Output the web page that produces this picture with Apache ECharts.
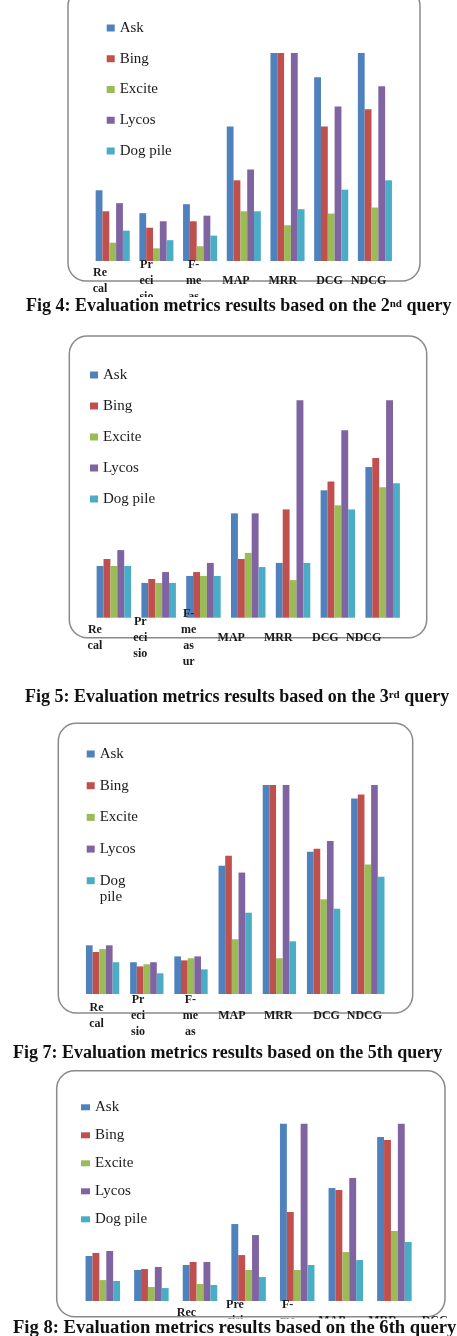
<!DOCTYPE html>
<html>
<head>
<meta charset="utf-8">
<title>Evaluation metrics results</title>
<script src="https://cdn.jsdelivr.net/npm/echarts@6.0.0/dist/echarts.min.js"></script>
<style>
  html, body { margin: 0; padding: 0; background: #fff; }
  #chart { width: 457px; height: 1336px; }
</style>
</head>
<body>
<div id="chart"></div>
<script>
const engines = ['Ask', 'Bing', 'Excite', 'Lycos', 'Dog pile']
const colors = ['#4f81bd', '#c0504d', '#9bbb59', '#8064a2', '#4bacc6']

// Fig 4 - 2nd query
const q2Labels = ['Re\ncal', 'Pr\neci\nsio', 'F-\nme\nas', 'MAP', 'MRR', 'DCG', 'NDCG']
const q2Ask = [0.34, 0.23, 0.273, 0.647, 1, 0.883, 1]
const q2Bing = [0.239, 0.16, 0.191, 0.388, 1, 0.647, 0.73]
const q2Excite = [0.088, 0.061, 0.071, 0.239, 0.172, 0.228, 0.257]
const q2Lycos = [0.278, 0.191, 0.218, 0.44, 1, 0.743, 0.84]
const q2Dogpile = [0.146, 0.1, 0.122, 0.239, 0.249, 0.343, 0.388]

// Fig 5 - 3rd query
const q3Labels = ['Re\ncal', 'Pr\neci\nsio', 'F-\nme\nas\nur', 'MAP', 'MRR', 'DCG', 'NDCG']
const q3Ask = [0.238, 0.16, 0.192, 0.48, 0.252, 0.586, 0.693]
const q3Bing = [0.27, 0.178, 0.21, 0.27, 0.498, 0.627, 0.735]
const q3Excite = [0.238, 0.16, 0.192, 0.298, 0.173, 0.517, 0.6]
const q3Lycos = [0.311, 0.21, 0.252, 0.48, 1, 0.862, 1]
const q3Dogpile = [0.238, 0.16, 0.192, 0.233, 0.252, 0.498, 0.618]

// Fig 7 - 5th query
const q5Labels = ['Re\ncal', 'Pr\neci\nsio', 'F-\nme\nas', 'MAP', 'MRR', 'DCG', 'NDCG']
const q5Ask = [0.233, 0.152, 0.18, 0.614, 1, 0.681, 0.935]
const q5Bing = [0.201, 0.132, 0.161, 0.662, 1, 0.695, 0.954]
const q5Excite = [0.215, 0.142, 0.171, 0.262, 0.171, 0.453, 0.62]
const q5Lycos = [0.233, 0.152, 0.18, 0.581, 1, 0.732, 1]
const q5Dogpile = [0.152, 0.099, 0.118, 0.389, 0.252, 0.408, 0.561]

// Fig 8 - 6th query (the source figure prints its labels two groups to the right)
const q6Labels = ['', '', 'Rec\nall', 'Pre\ncisi\non', 'F-\nme\nas', 'MAP', 'MRR', 'DCG', 'NDCG']
const q6Ask = [0.254, 0.175, 0.203, 0.434, 1, 0.637, 0.925]
const q6Bing = [0.271, 0.18, 0.22, 0.259, 0.502, 0.626, 0.908]
const q6Excite = [0.118, 0.079, 0.096, 0.175, 0.175, 0.276, 0.395]
const q6Lycos = [0.282, 0.192, 0.22, 0.372, 1, 0.694, 1]
const q6Dogpile = [0.113, 0.073, 0.09, 0.135, 0.203, 0.231, 0.333]

const panels = [
  {
    labels: q2Labels, values: [q2Ask, q2Bing, q2Excite, q2Lycos, q2Dogpile],
    grid: { left: 90.85, top: 53, width: 305.9, height: 208 }, gap: '22%', margin: 20,
    shifts: [-12.7, -10, -6.4, -7.8, -4.7, -1.7, -6.3], lifts: [],
    legends: [{ data: engines, left: 106.7, top: 20, itemGap: 14.75, w: 8, h: 7 }],
    frame: { x: 68, y: -12, width: 352, height: 293 },
    caption: { left: 26, top: 299, lh: 14, pre: 'Fig 4: Evaluation metrics results based on the 2', sup: 'nd', post: ' query', size: 18 }
  },
  {
    labels: q3Labels, values: [q3Ask, q3Bing, q3Excite, q3Lycos, q3Dogpile],
    grid: { left: 91.45, top: 400.3, width: 313.6, height: 217.4 }, gap: '23%', margin: 20,
    shifts: [-18.9, -18.4, -14.8, -17, -14.7, -12.5, -19], lifts: [0, 0, 4],
    legends: [{ data: engines, left: 90, top: 367, itemGap: 15, w: 8, h: 7 }],
    frame: { x: 69.3, y: 336, width: 357.4, height: 301.7 },
    caption: { left: 25, top: 690, lh: 14, pre: 'Fig 5: Evaluation metrics results based on the 3', sup: 'rd', post: ' query', size: 18 }
  },
  {
    labels: q5Labels, values: [q5Ask, q5Bing, q5Excite, q5Lycos, q5Dogpile],
    grid: { left: 80.5, top: 785, width: 309.4, height: 209 }, gap: '24.6%', margin: 22,
    shifts: [-6, -8.8, -0.7, -3.4, -1.1, 3, -3.4], lifts: [],
    legends: [
      { data: engines.slice(0, 4), left: 86.7, top: 746, itemGap: 15.7, w: 8, h: 7 },
      // "Dog pile" wraps onto two lines here, first line level with the swatch
      { data: engines.slice(4), left: 86.7, top: 856.7, itemGap: 15.7, w: 8, h: 7, wrap: true }
    ],
    frame: { x: 58.3, y: 723.3, width: 354.4, height: 289.7 },
    caption: { left: 13, top: 1046, lh: 14, pre: 'Fig 7: Evaluation metrics results based on the 5th query', sup: '', post: '', size: 18 }
  },
  {
    labels: q6Labels, values: [q6Ask, q6Bing, q6Excite, q6Lycos, q6Dogpile],
    grid: { left: 78.5, top: 1123.7, width: 437.4, height: 177.3 }, gap: '29%', margin: 20,
    shifts: [0, 0, -13.6, -13.6, -9.5, -14, -11.8, -8, 0], lifts: [],
    legends: [{ data: engines, left: 81, top: 1099.3, itemGap: 12, w: 9, h: 6 }],
    frame: { x: 56.7, y: 1070.7, width: 388.3, height: 246 },
    caption: { left: 13, top: 1324, lh: 8, pre: 'Fig 8: Evaluation metrics results based on the 6th query', sup: '', post: '', size: 18.6 }
  }
]

const serif = '"Liberation Serif", "DejaVu Serif", serif'

const option = {
  animation: false,
  backgroundColor: '#fff',
  grid: [],
  xAxis: [],
  yAxis: [],
  legend: [],
  title: [],
  graphic: [],
  series: []
}

panels.forEach((p, i) => {
  option.grid.push(Object.assign({ outerBoundsMode: 'none', containLabel: false }, p.grid))
  option.xAxis.push({
    type: 'category',
    gridIndex: i,
    z: 10,
    data: p.labels.map((name, k) => {
      const s = p.shifts[k] || 0
      const d = p.lifts[k] || 0
      return {
        value: name,
        textStyle: {
          align: 'center',
          verticalAlign: 'middle',
          padding: [2 * d, s < 0 ? -2 * s : 0, 0, s > 0 ? 2 * s : 0]
        }
      }
    }),
    axisLine: { show: false },
    axisTick: { show: false },
    splitLine: { show: false },
    axisLabel: {
      interval: 0,
      margin: p.margin,
      align: 'center',
      verticalAlign: 'middle',
      fontFamily: serif,
      fontWeight: 'bold',
      fontSize: 12,
      lineHeight: 16,
      color: '#1a1a1a',
      hideOverlap: false
    }
  })
  option.yAxis.push({ type: 'value', gridIndex: i, min: 0, max: 1, show: false })
  p.legends.forEach(lg => {
    option.legend.push({
      orient: 'vertical',
      left: lg.left,
      top: lg.top,
      padding: 0,
      itemGap: lg.itemGap,
      itemWidth: lg.w,
      itemHeight: lg.h,
      icon: 'rect',
      data: lg.data,
      selectedMode: false,
      formatter: name => lg.wrap ? '\n' + name.replace(' ', '\n') : name,
      textStyle: { fontFamily: serif, fontSize: 15, lineHeight: 16, color: '#1a1a1a' }
    })
  })
  const c = p.caption
  option.title.push({
    left: c.left,
    top: c.top,
    padding: 0,
    z: 20,
    backgroundColor: '#fff',
    text: '{t|' + c.pre + '}' + (c.sup ? '{s|' + c.sup + '}{t|' + c.post + '}' : ''),
    textStyle: {
      rich: {
        t: { fontFamily: serif, fontWeight: 'bold', fontSize: c.size, lineHeight: c.lh, color: '#111' },
        s: { fontFamily: serif, fontWeight: 'bold', fontSize: 11, lineHeight: 6, verticalAlign: 'top', color: '#111' }
      }
    }
  })
  option.graphic.push({
    type: 'rect',
    z: -10,
    silent: true,
    shape: Object.assign({ r: 18 }, p.frame),
    style: { fill: 'none', stroke: '#8a8a8a', lineWidth: 1.5 }
  })
  p.values.forEach((vals, j) => {
    option.series.push({
      name: engines[j],
      type: 'bar',
      xAxisIndex: i,
      yAxisIndex: i,
      barGap: '0%',
      barCategoryGap: p.gap,
      itemStyle: { color: colors[j] },
      data: vals
    })
  })
})

const chart = echarts.init(document.getElementById('chart'))
chart.setOption(option)
window.addEventListener('resize', () => {
  chart.resize()
})
</script>
</body>
</html>
